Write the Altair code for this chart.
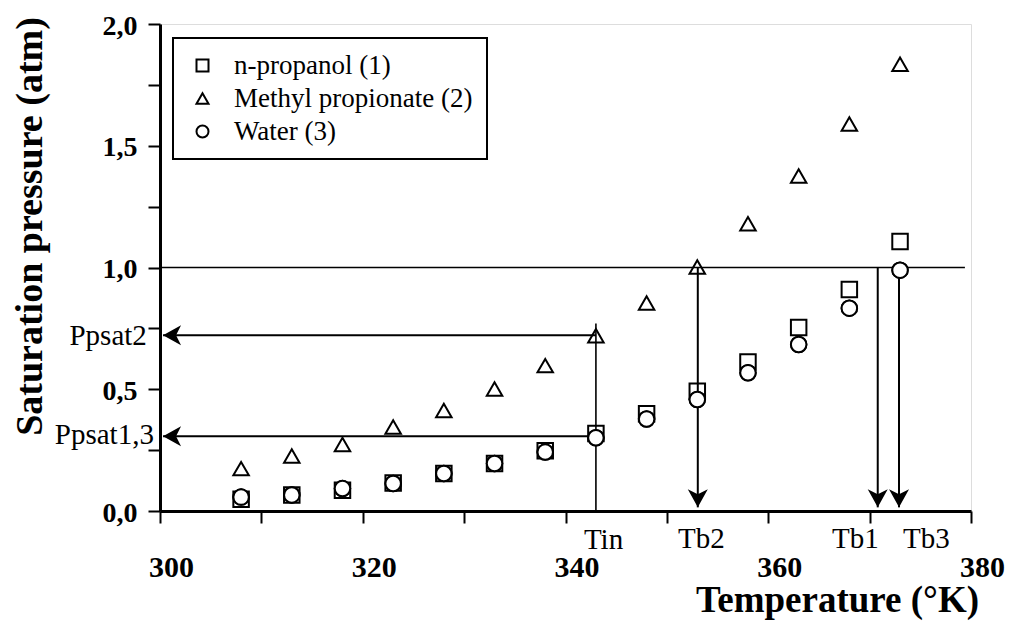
import altair as alt
import pandas as pd

# ---- data ----
temperature = [308, 313, 318, 323, 328, 333, 338, 343, 348, 353, 358, 363, 368, 373]
n_propanol = [0.048, 0.066, 0.085, 0.115, 0.154, 0.195, 0.247, 0.318, 0.399, 0.492, 0.612, 0.754, 0.910, 1.107]
methyl_propionate = [0.174, 0.226, 0.273, 0.345, 0.413, 0.501, 0.597, 0.720, 0.854, 1.002, 1.180, 1.376, 1.589, 1.835]
water = [0.057, 0.066, 0.092, 0.113, 0.154, 0.195, 0.242, 0.301, 0.378, 0.458, 0.568, 0.684, 0.833, 0.989]
series_names = ["n-propanol (1)", "Methyl propionate (2)", "Water (3)"]

# reference lines (thin): 1 atm line and Tin line
thin_x1 = [300.0, 343.0]
thin_x2 = [379.4, 343.0]
thin_y1 = [1.0, 0.0]
thin_y2 = [1.0, 0.77]

# arrow shafts
arrow_x1 = [343.0, 343.0, 353.05, 370.8, 372.9]
arrow_x2 = [300.3, 300.3, 353.05, 370.8, 372.9]
arrow_y1 = [0.722, 0.307, 1.0, 1.0, 1.0]
arrow_y2 = [0.722, 0.307, 0.015, 0.015, 0.015]

# arrow heads (tips)
left_tip_x = [300.3, 300.3]
left_tip_y = [0.722, 0.307]
down_tip_x = [353.05, 370.8, 372.9]
down_tip_y = [0.015, 0.015, 0.015]

# annotation texts
side_labels = ["Ppsat2", "Ppsat1,3"]
side_x = [298.7, 299.4]
side_y = [0.681, 0.274]
bottom_labels = ["Tin", "Tb2", "Tb1", "Tb3"]
bottom_x = [343.75, 353.4, 368.6, 375.6]
bottom_y = [-0.158, -0.150, -0.154, -0.154]

# tick values
x_ticks = list(range(300, 381, 10))
y_ticks = [0, 0.25, 0.5, 0.75, 1.0, 1.25, 1.5, 1.75, 2.0]

FONT = "Liberation Serif"

# ---- tables ----
pts = pd.DataFrame({
    "T": temperature * 3,
    "P": n_propanol + methyl_propionate + water,
    "series": [series_names[0]] * len(temperature)
              + [series_names[1]] * len(temperature)
              + [series_names[2]] * len(temperature),
})
water_df = pd.DataFrame({"T": temperature, "P": water})
thin_df = pd.DataFrame({"x1": thin_x1, "x2": thin_x2, "y1": thin_y1, "y2": thin_y2})
arrow_df = pd.DataFrame({"x1": arrow_x1, "x2": arrow_x2, "y1": arrow_y1, "y2": arrow_y2})
left_df = pd.DataFrame({"x1": left_tip_x, "y1": left_tip_y})
down_df = pd.DataFrame({"x1": down_tip_x, "y1": down_tip_y})
side_df = pd.DataFrame({"x1": side_x, "y1": side_y, "t": side_labels})
bottom_df = pd.DataFrame({"x1": bottom_x, "y1": bottom_y, "t": bottom_labels})

xscale = alt.Scale(domain=[300, 380], nice=False, zero=False)
yscale = alt.Scale(domain=[0, 2], nice=False, zero=False)

xaxis = alt.Axis(
    values=x_ticks,
    labelExpr="datum.value % 20 == 0 ? datum.label : ''",
    format="d",
    grid=False,
    tickSize=12, tickWidth=2, tickColor="black",
    domainWidth=3, domainColor="black",
    labelFont=FONT, labelFontSize=30, labelFontWeight="bold", labelColor="black",
    labelBaseline="alphabetic", labelPadding=53, labelOffset=11,
    labelOverlap=False, labelFlush=False,
    titleFont=FONT, titleFontSize=37, titleFontWeight="bold", titleColor="black",
    titleX=677, titleY=100, titleAlign="center", titleBaseline="alphabetic",
)
yaxis = alt.Axis(
    values=y_ticks,
    labelExpr="(datum.value * 2) % 1 == 0 ? replace(format(datum.value, '.1f'), '.', ',') : ''",
    grid=False,
    tickSize=12, tickWidth=2, tickColor="black",
    domainWidth=3, domainColor="black",
    labelFont=FONT, labelFontSize=28, labelFontWeight="bold", labelColor="black",
    labelPadding=11, labelOffset=2,
    labelOverlap=False, labelFlush=False,
    titleFont=FONT, titleFontSize=38, titleFontWeight="bold", titleColor="black",
    titleX=-119, titleY=202, titleAlign="center", titleBaseline="alphabetic", titleAngle=270,
)

XT = "Temperature (°K)"
YT = "Saturation pressure (atm)"


def X(field):
    return alt.X(field, type="quantitative", scale=xscale, axis=xaxis, title=XT)


def Y(field):
    return alt.Y(field, type="quantitative", scale=yscale, axis=yaxis, title=YT)


thin = alt.Chart(thin_df).mark_rule(color="black", strokeWidth=1.6).encode(
    x=X("x1"), x2="x2", y=Y("y1"), y2="y2")

shafts = alt.Chart(arrow_df).mark_rule(color="black", strokeWidth=2).encode(
    x=X("x1"), x2="x2", y=Y("y1"), y2="y2")

left_heads = alt.Chart(left_df).mark_point(
    shape="M0,0 L1.8,-1 L1.3,0 L1.8,1 Z", filled=True, color="black",
    size=400, opacity=1, strokeWidth=0.5).encode(x=X("x1"), y=Y("y1"))

down_heads = alt.Chart(down_df).mark_point(
    shape="M0,0 L-1,-1.8 L0,-1.3 L1,-1.8 Z", filled=True, color="black",
    size=400, opacity=1, strokeWidth=0.5).encode(x=X("x1"), y=Y("y1"))

points = alt.Chart(pts).mark_point(
    filled=False, color="black", strokeWidth=2, size=240, opacity=1).encode(
    x=X("T"), y=Y("P"),
    shape=alt.Shape("series:N",
                    scale=alt.Scale(domain=series_names,
                                    range=["square", "triangle-up", "circle"]),
                    legend=alt.Legend(
                        title=None, orient="none", legendX=13, legendY=14,
                        strokeColor="black", fillColor="white",
                        padding=14, symbolOffset=2, labelOffset=18,
                        symbolSize=144, symbolStrokeWidth=2,
                        labelFont=FONT, labelFontSize=27, labelColor="black",
                        rowPadding=5, labelLimit=400)),
)

# water circles drawn last with white fill (they cover the squares beneath)
water_cover = alt.Chart(water_df).mark_point(
    shape="circle", filled=True, fill="white", stroke="black", strokeWidth=2,
    size=240, opacity=1).encode(x=X("T"), y=Y("P"))

side_text = alt.Chart(side_df).mark_text(
    font=FONT, fontSize=29, color="black", align="right", baseline="alphabetic").encode(
    x=X("x1"), y=Y("y1"), text="t:N")

bottom_text = alt.Chart(bottom_df).mark_text(
    font=FONT, fontSize=29, color="black", align="center", baseline="alphabetic").encode(
    x=X("x1"), y=Y("y1"), text="t:N")

chart = alt.layer(
    thin, shafts, left_heads, down_heads, points, water_cover, side_text, bottom_text
).properties(
    width=811, height=487,
    autosize=alt.AutoSizeParams(type="none"),
    padding={"left": 152, "top": 16, "right": 36, "bottom": 118},
).configure_view(
    stroke="black", strokeWidth=2.5
).configure(
    font=FONT, background="white"
).configure_legend(
    strokeWidth=2
)

chart.save("out.html", embed_options={"renderer": "svg", "actions": False})
